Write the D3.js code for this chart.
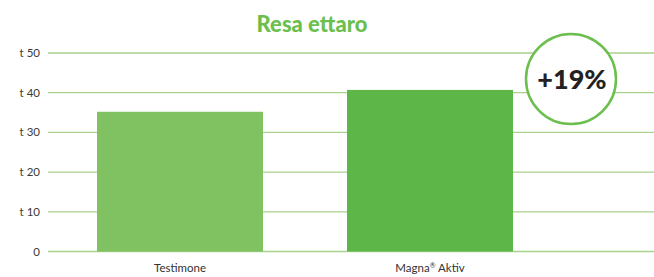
<!DOCTYPE html>
<html>
<head>
<meta charset="utf-8">
<script src="https://cdn.jsdelivr.net/npm/d3@7"></script>
<style>
  body { margin: 0; background: #fff; }
  svg { display: block; font-family: Lato, "Open Sans", sans-serif; }
</style>
</head>
<body>
<div id="chart"></div>
<script>
// Data
const categories = ["Testimone", "Magna® Aktiv"];
const values = [35.2, 40.7];
const tickValues = [0, 10, 20, 30, 40, 50];
const tickLabels = ["0", "t 10", "t 20", "t 30", "t 40", "t 50"];
const badgeText = "+19%";
const title = "Resa ettaro";

const W = 654, H = 277;
const gridLeft = 48;

const svg = d3.select("#chart").append("svg")
    .attr("width", W)
    .attr("height", H);

const y = d3.scaleLinear()
    .domain([0, 50])
    .range([251.5, 53]);

const x = d3.scaleBand()
    .domain(categories)
    .range([48, 562])
    .paddingInner(0.336)
    .paddingOuter(0.196);

// gridlines
svg.append("g")
    .selectAll("line")
    .data(tickValues)
    .enter()
    .append("line")
    .attr("x1", gridLeft)
    .attr("x2", W)
    .attr("y1", d => y(d))
    .attr("y2", d => y(d))
    .attr("stroke", "#a9d18e")
    .attr("stroke-width", 1.3);

// y labels
svg.append("g")
    .selectAll("text")
    .data(tickValues)
    .enter()
    .append("text")
    .attr("x", 40)
    .attr("y", d => y(d))
    .attr("dy", "0.35em")
    .attr("text-anchor", "end")
    .attr("fill", "#3a3a3a")
    .attr("font-size", "11.5px")
    .text((d, i) => tickLabels[i]);

// bars
const colors = ["#80c262", "#5db748"];
svg.selectAll(".bar")
    .data(values)
    .enter()
    .append("rect")
    .attr("class", "bar")
    .attr("x", (d, i) => x(categories[i]))
    .attr("y", d => y(d))
    .attr("width", x.bandwidth())
    .attr("height", d => y(0) - y(d))
    .attr("fill", (d, i) => colors[i]);

// category labels (® drawn small and raised)
svg.append("g")
    .selectAll("text")
    .data(categories)
    .enter()
    .append("text")
    .attr("x", d => x(d) + x.bandwidth() / 2)
    .attr("y", 272)
    .attr("text-anchor", "middle")
    .attr("fill", "#333")
    .attr("font-size", "11.5px")
    .each(function (d) {
        const t = d3.select(this);
        let shift = 0;
        d.split(/(®)/).forEach(part => {
            if (!part) return;
            if (part === "®") {
                t.append("tspan").attr("font-size", "7px").attr("dy", -4).text(part);
                shift = 4;
            } else {
                t.append("tspan").attr("dy", shift).text(part);
                shift = 0;
            }
        });
    });

// title
svg.append("text")
    .attr("x", 312)
    .attr("y", 32)
    .attr("text-anchor", "middle")
    .attr("fill", "#6cbf4e")
    .attr("font-size", "22px")
    .attr("font-weight", "900")
    .text(title);

// badge
svg.append("circle")
    .attr("cx", 571)
    .attr("cy", 79)
    .attr("r", 45)
    .attr("fill", "#fff")
    .attr("stroke", "#6cbf4e")
    .attr("stroke-width", 2.5);

svg.append("text")
    .attr("x", 572)
    .attr("y", 89)
    .attr("text-anchor", "middle")
    .attr("fill", "#222")
    .attr("font-size", "27px")
    .attr("font-weight", "900")
    .text(badgeText);
</script>
</body>
</html>
